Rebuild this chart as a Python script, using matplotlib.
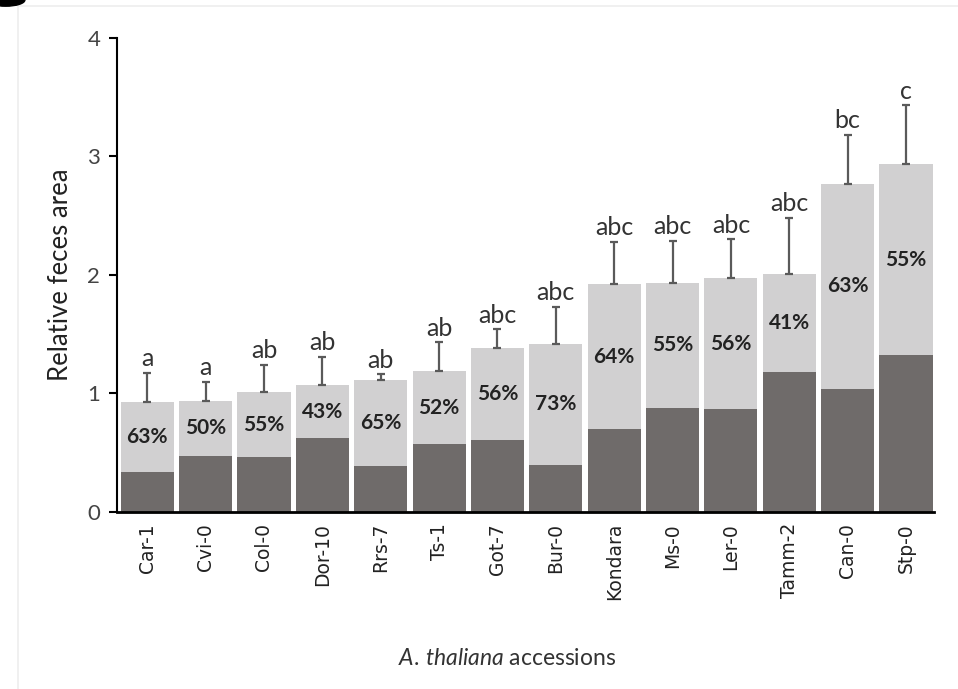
import matplotlib
matplotlib.use("Agg")
import matplotlib.pyplot as plt
from matplotlib.patches import Ellipse, Rectangle

plt.rcParams["mathtext.fontset"] = "custom"
plt.rcParams["mathtext.it"] = "Lato:italic"
plt.rcParams["mathtext.rm"] = "Lato"

accessions = ["Car-1", "Cvi-0", "Col-0", "Dor-10", "Rrs-7", "Ts-1", "Got-7",
              "Bur-0", "Kondara", "Ms-0", "Ler-0", "Tamm-2", "Can-0", "Stp-0"]
# total relative feces area and the dark (lower) part of each bar
total = [0.93, 0.94, 1.01, 1.07, 1.11, 1.19, 1.38, 1.42, 1.92, 1.93, 1.97, 2.01, 2.77, 2.94]
lower = [0.34, 0.47, 0.46, 0.62, 0.39, 0.57, 0.61, 0.40, 0.70, 0.88, 0.87, 1.18, 1.04, 1.32]
err = [0.24, 0.16, 0.23, 0.24, 0.05, 0.24, 0.16, 0.31, 0.36, 0.36, 0.33, 0.47, 0.41, 0.49]
pct = ["63%", "50%", "55%", "43%", "65%", "52%", "56%", "73%", "64%", "55%", "56%", "41%", "63%", "55%"]
letters = ["a", "a", "ab", "ab", "ab", "ab", "abc", "abc", "abc", "abc", "abc", "abc", "bc", "c"]

upper = [t - l for t, l in zip(total, lower)]
x = list(range(len(accessions)))

fig = plt.figure(figsize=(9.58, 6.89), dpi=100)
ax = fig.add_axes([0.122, 0.257, 0.853, 0.688])

ax.bar(x, lower, width=0.91, color="#6f6b6a")
ax.bar(x, upper, width=0.91, bottom=lower, color="#d1d0d1")
ax.errorbar(x, total, yerr=[[0] * len(x), err], fmt="none", ecolor="#5a5a5a",
            elinewidth=1.6, capsize=3, capthick=1.6)

for i in x:
    ax.text(i, lower[i] + upper[i] / 2, pct[i], ha="center", va="center",
            fontsize=15, fontweight="bold", color="#222222", family="Lato")
    ax.annotate(letters[i], (i, total[i] + err[i]), xytext=(0, 2),
                textcoords="offset points", ha="center", va="bottom",
                fontsize=18, color="#333333", family="Lato")

ax.set_xlim(-0.52, 13.48)
ax.set_ylim(0, 4)
ax.set_yticks([0, 1, 2, 3, 4])
ax.set_xticks(x)
ax.set_xticklabels(accessions, rotation=90, fontsize=13.5, color="#222222",
                   family="DejaVu Sans")
for lab in ax.get_yticklabels():
    lab.set_family("Lato")
    lab.set_fontsize(16)
    lab.set_color("#444444")
ax.tick_params(axis="x", length=0, pad=8)
ax.tick_params(axis="y", length=6, width=1.5, pad=6)

for s in ["top", "right"]:
    ax.spines[s].set_visible(False)
ax.spines["left"].set_linewidth(1.5)
ax.spines["bottom"].set_linewidth(2)

ax.set_ylabel("Relative feces area", fontsize=18.5, family="Lato", color="#222222", labelpad=10)
fig.text(0.529, 0.035, r"$\mathit{A.\,thaliana}$ accessions", ha="center", va="baseline",
         fontsize=16.5, family="Lato", color="#333333")

# faint frame and corner of the panel letter
fig.patches.append(Rectangle((0.019, -0.01), 1.0, 1.001, transform=fig.transFigure,
                             fill=False, edgecolor="#eeeeee", linewidth=1.2))
fig.patches.append(Ellipse((0.006, 1.0), 0.04, 0.018, transform=fig.transFigure,
                           color="black"))

fig.savefig("out.png", dpi=100)
